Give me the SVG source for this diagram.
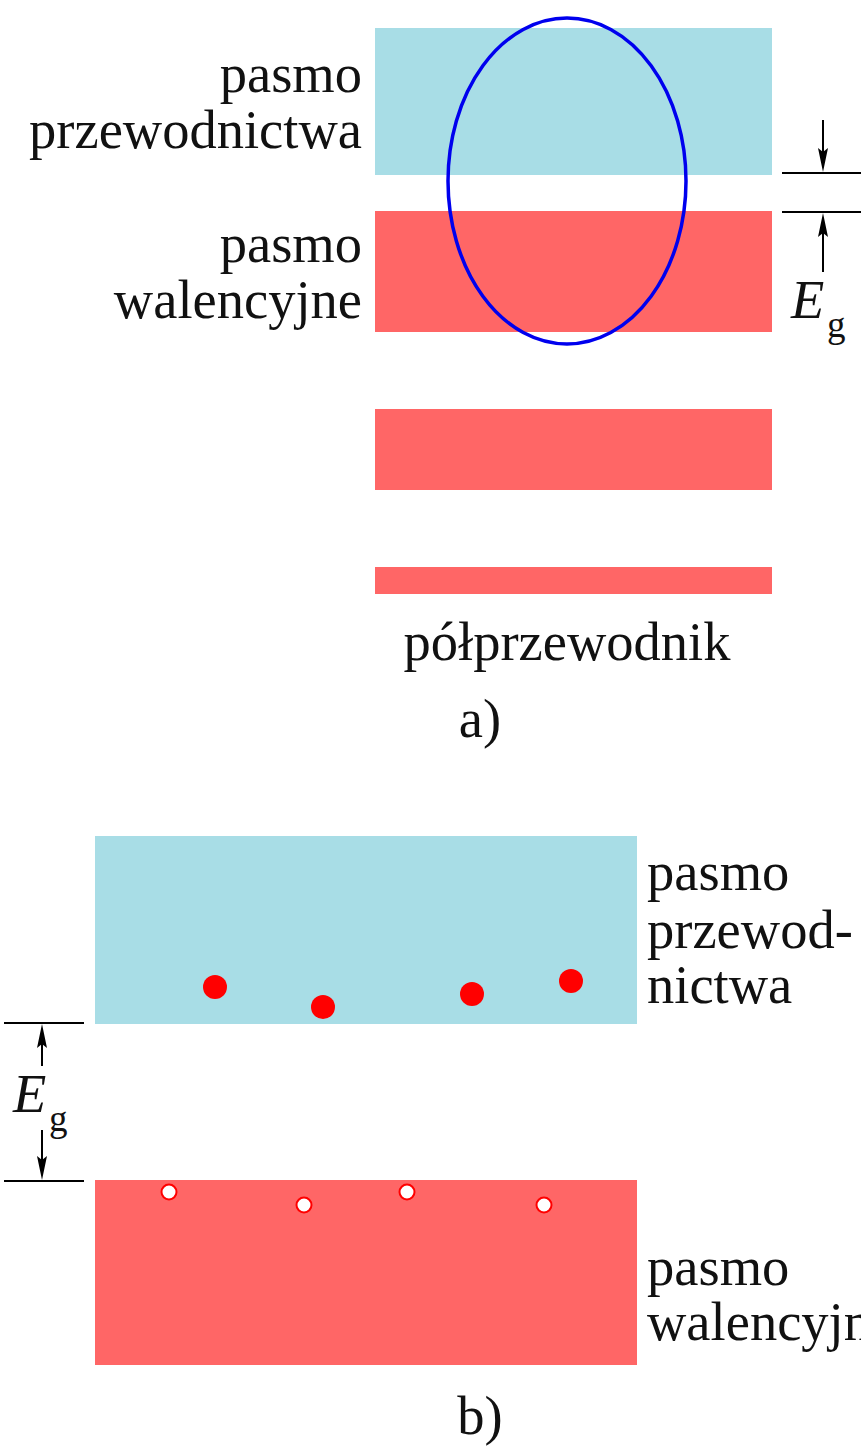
<svg xmlns="http://www.w3.org/2000/svg" width="861" height="1447" viewBox="0 0 861 1447">
<defs>
<style>
.t{font-family:"Liberation Serif","Times New Roman",serif;font-size:54.5px;fill:#111}
.r{text-anchor:end}
.c{text-anchor:middle}
.cb{fill:#A8DDE6}
.vb{fill:#FF6666}
.ln{stroke:#000;stroke-width:2;fill:none}
.ah{fill:#000}
.e{fill:#FF0000}
.h{fill:#fff;stroke:#FF0000;stroke-width:2}
.it{font-style:italic}
.sub{font-size:37px}
</style>
</defs>
<rect width="861" height="1447" fill="#fff"/>
<g id="a-conduction"><rect class="cb" x="375" y="28" width="397" height="147"/></g>
<g id="a-valence"><rect class="vb" x="375" y="211" width="397" height="121"/></g>
<g id="a-band3"><rect class="vb" x="375" y="409" width="397" height="81"/></g>
<g id="a-band4"><rect class="vb" x="375" y="567" width="397" height="27"/></g>
<g id="a-ellipse"><ellipse cx="567" cy="181" rx="119" ry="163" fill="none" stroke="#0000EE" stroke-width="3.5"/></g>
<g id="a-labels">
<text class="t r" x="362" y="92">pasmo</text>
<text class="t r" x="362" y="148">przewodnictwa</text>
<text class="t r" x="362" y="262">pasmo</text>
<text class="t r" x="362" y="318">walencyjne</text>
<text class="t c" x="567" y="660">półprzewodnik</text>
<text class="t c" x="480" y="737">a)</text>
</g>
<g id="a-eg"><text class="t it" x="791" y="318">E</text><text class="t sub" x="827" y="337">g</text></g>
<g id="b-conduction"><rect class="cb" x="95" y="836" width="542" height="188"/></g>
<g id="b-valence"><rect class="vb" x="95" y="1180" width="542" height="185"/></g>
<g id="b-electrons">
<circle class="e" cx="215" cy="987" r="12"/>
<circle class="e" cx="323" cy="1007" r="12"/>
<circle class="e" cx="472" cy="994" r="12"/>
<circle class="e" cx="571" cy="981" r="12"/>
</g>
<g id="b-holes">
<circle class="h" cx="169" cy="1192" r="7.5"/>
<circle class="h" cx="304" cy="1205" r="7.5"/>
<circle class="h" cx="407" cy="1192" r="7.5"/>
<circle class="h" cx="544" cy="1205" r="7.5"/>
</g>
<g id="b-labels">
<text class="t" x="647" y="890">pasmo</text>
<text class="t" x="647" y="948">przewod-</text>
<text class="t" x="647" y="1003">nictwa</text>
<text class="t" x="647" y="1285">pasmo</text>
<text class="t" x="647" y="1340">walencyjne</text>
<text class="t c" x="480" y="1434">b)</text>
</g>
<g id="b-eg"><text class="t it" x="13" y="1112">E</text><text class="t sub" x="49" y="1131">g</text></g>
<g id="connectors">
<line class="ln" x1="782" y1="173" x2="861" y2="173"/>
<line class="ln" x1="782" y1="212" x2="861" y2="212"/>
<line class="ln" x1="823" y1="120" x2="823" y2="160"/>
<path class="ah" d="M823,172 L818,148 L823,152 L828,148 Z"/>
<line class="ln" x1="823" y1="272" x2="823" y2="226"/>
<path class="ah" d="M823,213 L818,237 L823,233 L828,237 Z"/>
<line class="ln" x1="4" y1="1023" x2="84" y2="1023"/>
<line class="ln" x1="4" y1="1181" x2="84" y2="1181"/>
<line class="ln" x1="42" y1="1066" x2="42" y2="1036"/>
<path class="ah" d="M42,1024 L37,1048 L42,1044 L47,1048 Z"/>
<line class="ln" x1="42" y1="1130" x2="42" y2="1168"/>
<path class="ah" d="M42,1180 L37,1156 L42,1160 L47,1156 Z"/>
</g>
</svg>
